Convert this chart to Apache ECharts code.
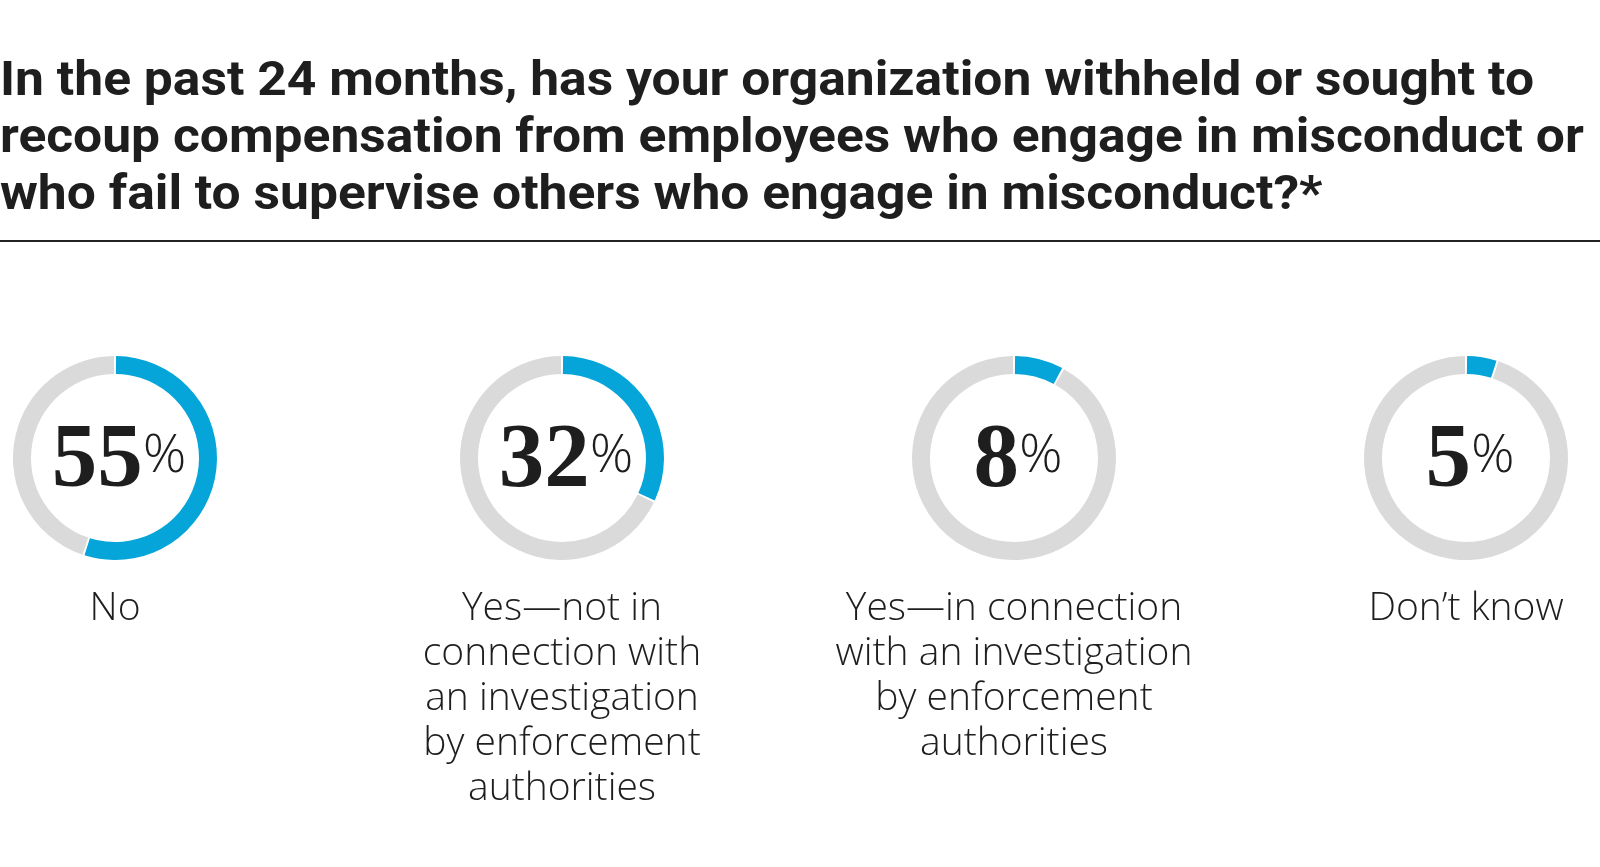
<!DOCTYPE html>
<html><head><meta charset="utf-8">
<script src="https://cdn.jsdelivr.net/npm/echarts@6/dist/echarts.min.js"></script>
<style>html,body{margin:0;padding:0;background:#fff}#c{width:1600px;height:867px}</style>
</head><body><div id="c"></div>
<script>
const titleLines = ["In the past 24 months, has your organization withheld or sought to", "recoup compensation from employees who engage in misconduct or", "who fail to supervise others who engage in misconduct?*"];
const categories = ["No", "Yes\u2014not in\nconnection with\nan investigation\nby enforcement\nauthorities", "Yes\u2014in connection\nwith an investigation\nby enforcement\nauthorities", "Don\u2019t know"];
const values = [55, 32, 8, 5];

const centersX = [115, 562, 1014, 1466];
const centerY = 458;
const BLUE = '#05a5d9', GRAY = '#dadada', INK = '#1e1e1e';
const TITLE_FONT = 'bold 49px Roboto, "Liberation Sans", sans-serif';
const TITLE_WIDTH = 1534;

// fit the title's first line to the reference line width
const ctx = document.createElement('canvas').getContext('2d');
ctx.font = TITLE_FONT;
const natural = ctx.measureText(titleLines[0]).width;
const sx = TITLE_WIDTH / natural;

const chart = echarts.init(document.getElementById('c'), null, {renderer: 'canvas'});
const series = values.map((v, i) => ({
  type: 'pie',
  center: [centersX[i], centerY],
  radius: [84, 102],
  startAngle: 90,
  clockwise: true,
  padAngle: 1.2,
  silent: true,
  avoidLabelOverlap: false,
  labelLine: {show: false},
  data: [
    {value: v, name: 'yes', itemStyle: {color: BLUE},
     label: {show: true, position: 'center', formatter: '{n|' + v + '}{p|%}', offset: [4, 4],
       rich: {
         n: {fontFamily: 'Liberation Serif', fontWeight: 'bold', fontSize: 91, color: INK, verticalAlign: 'bottom'},
         p: {fontFamily: 'Open Sans', fontWeight: 300, fontSize: 54, color: INK, verticalAlign: 'top', padding: [13, 0, 0, 0]}
       }}},
    {value: 100 - v, name: 'rest', itemStyle: {color: GRAY}, label: {show: false}}
  ]
}));

const graphics = [
  {type: 'text', x: 0, y: 54, scaleX: sx, style: {text: titleLines.join('\n'), font: TITLE_FONT, fill: INK, lineHeight: 57, verticalAlign: 'top'}},
  {type: 'rect', shape: {x: 0, y: 240, width: 1600, height: 2}, style: {fill: '#222'}}
];
categories.forEach((c, i) => {
  graphics.push({type: 'text', x: centersX[i], y: 586, style: {text: c, align: 'center', verticalAlign: 'top', font: '300 39px "Open Sans", Lato, sans-serif', fill: INK, lineHeight: 45}});
});

chart.setOption({
  animation: false,
  series: series,
  graphic: graphics
});
</script></body></html>
